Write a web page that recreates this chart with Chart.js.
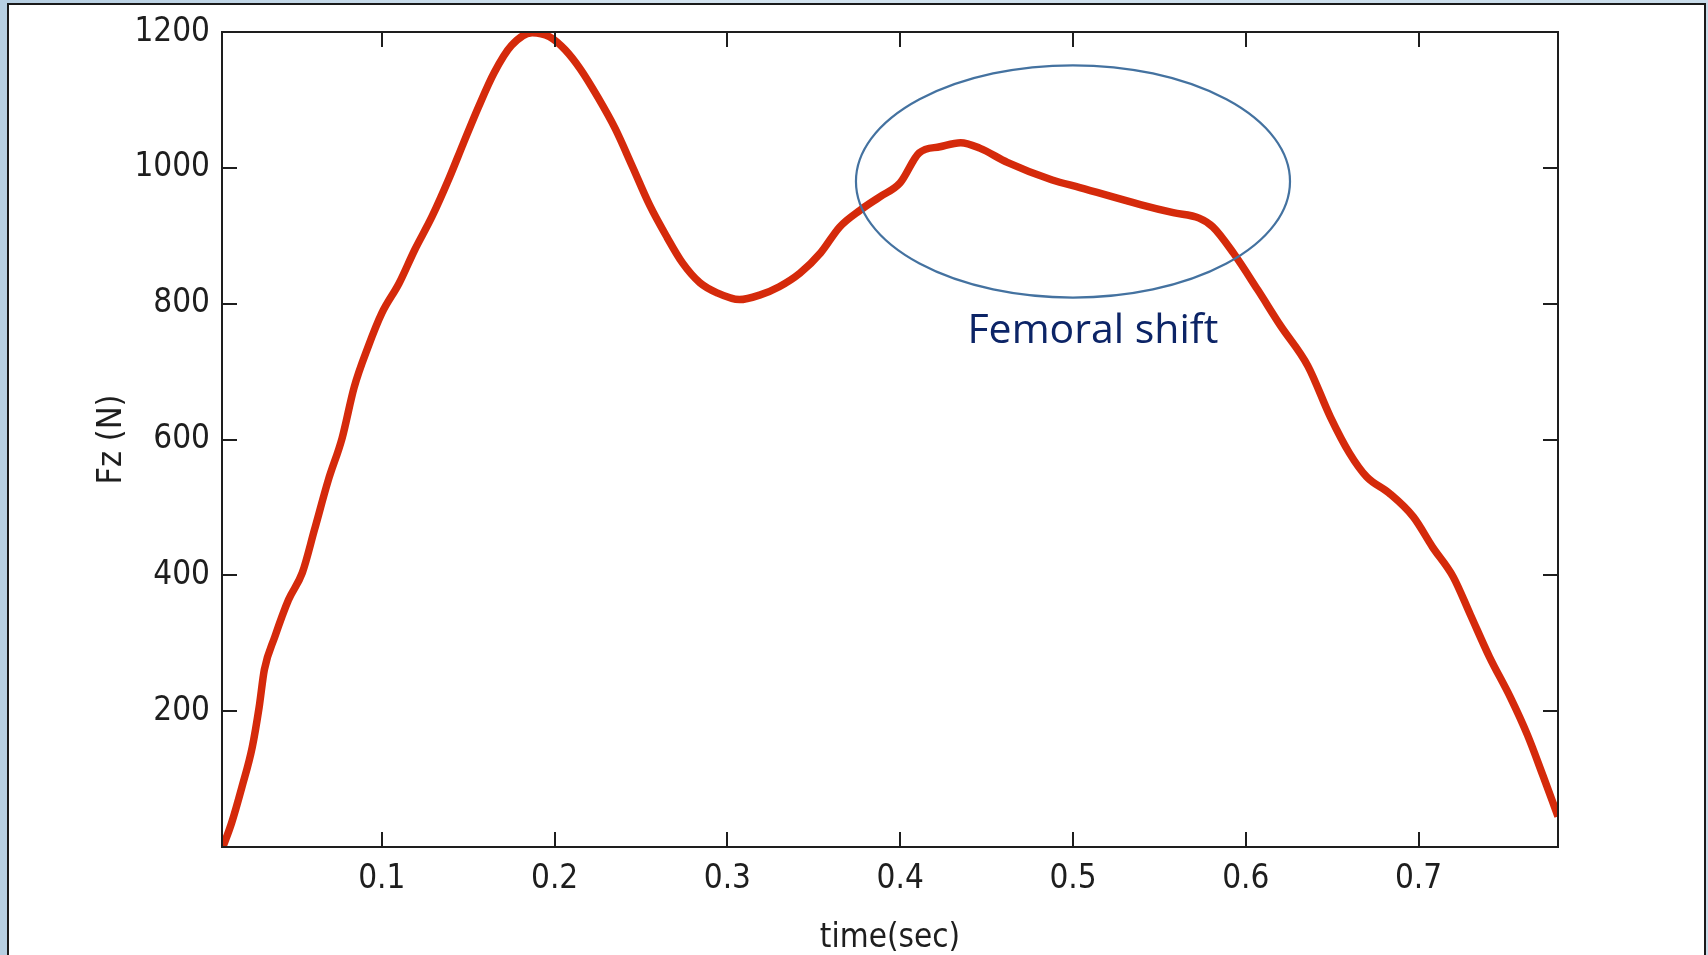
<!DOCTYPE html>
<html>
<head>
<meta charset="utf-8">
<title>Fz</title>
<script src="https://cdn.jsdelivr.net/npm/chart.js@4.4.1/dist/chart.umd.min.js"></script>
<style>
    body {
        margin: 0;
        width: 1708px;
        height: 955px;
        overflow: hidden;
        background: linear-gradient(90deg, #b7cfe2 0%, #d3e3ef 40%, #c9dcea 100%);
    }
    #marco {
        position: absolute;
        left: 7px;
        top: 3px;
        width: 1695px;
        height: 1000px;
        border: 2px solid #1a1a1a;
        background: #ffffff;
    }
    #graficoFz {
        position: absolute;
        left: 0;
        top: 0;
    }
</style>
</head>
<body>
<div id="marco"></div>
<canvas id="graficoFz" width="1708" height="955"></canvas>
<script>
// valores (tiempo en s, fuerza en N)
var tiempos = [0.008, 0.013, 0.019, 0.025, 0.029, 0.032, 0.038, 0.046, 0.054, 0.061,
    0.069, 0.077, 0.084, 0.092, 0.100, 0.110, 0.119, 0.129, 0.139, 0.147,
    0.156, 0.165, 0.175, 0.187, 0.197, 0.206, 0.215, 0.225, 0.235, 0.245,
    0.255, 0.265, 0.274, 0.284, 0.294, 0.307, 0.319, 0.330, 0.342, 0.354,
    0.365, 0.377, 0.388, 0.400, 0.411, 0.423, 0.435, 0.446, 0.462, 0.488,
    0.504, 0.539, 0.558, 0.573, 0.581, 0.593, 0.607, 0.620, 0.636, 0.649,
    0.660, 0.670, 0.683, 0.697, 0.708, 0.720, 0.730, 0.741, 0.753, 0.763,
    0.772, 0.7807];
var fuerzas = [0, 35, 88, 147, 206, 261, 309, 364, 404, 467,
    540, 602, 677, 736, 786, 830, 879, 928, 985, 1035,
    1090, 1140, 1180, 1199, 1193, 1174, 1145, 1104, 1058, 1002,
    945, 898, 860, 831, 816, 806, 813, 825, 845, 875,
    913, 938, 957, 978, 1022, 1031, 1037, 1029, 1008, 982,
    971, 946, 934, 926, 913, 874, 820, 768, 708, 633,
    580, 545, 521, 486, 442, 398, 342, 280, 221, 165,
    105, 45];
var ticksX = [0.1, 0.2, 0.3, 0.4, 0.5, 0.6, 0.7];
var ticksY = [200, 400, 600, 800, 1000, 1200];

// anotacion (en unidades de los ejes)
var nota = {texto: "Femoral shift", x: 0.5115, y: 742};
var elipse = {x: 0.5, y: 980, rx: 0.1256, ry: 171};

var fuenteEje = '"Liberation Sans Narrow", "DejaVu Sans Condensed", "Liberation Sans", sans-serif';

var marcoMatlab = {
    id: 'marcoMatlab',
    afterDatasetsDraw: function (chart) {
        var c = chart.ctx;
        var a = chart.chartArea;
        var sx = chart.scales.x;
        var sy = chart.scales.y;
        var largo = 15;
        c.save();
        c.strokeStyle = '#1e1e1e';
        c.lineWidth = 2;
        c.strokeRect(a.left, a.top, a.right - a.left, a.bottom - a.top);
        c.beginPath();
        ticksX.forEach(function (v) {
            var px = Math.round(sx.getPixelForValue(v));
            c.moveTo(px, a.bottom);
            c.lineTo(px, a.bottom - largo);
            c.moveTo(px, a.top);
            c.lineTo(px, a.top + largo);
        });
        ticksY.forEach(function (v) {
            var py = Math.round(sy.getPixelForValue(v));
            c.moveTo(a.left, py);
            c.lineTo(a.left + largo, py);
            c.moveTo(a.right, py);
            c.lineTo(a.right - largo, py);
        });
        c.stroke();

        // elipse y texto
        var cx = sx.getPixelForValue(elipse.x);
        var cy = sy.getPixelForValue(elipse.y);
        var rx = sx.getPixelForValue(elipse.x + elipse.rx) - cx;
        var ry = cy - sy.getPixelForValue(elipse.y + elipse.ry);
        c.beginPath();
        c.ellipse(cx, cy, rx, ry, 0, 0, Math.PI * 2);
        c.strokeStyle = '#4472a0';
        c.lineWidth = 2.2;
        c.stroke();

        c.fillStyle = '#0c2466';
        c.font = '41px "Open Sans", "Noto Sans", sans-serif';
        c.textAlign = 'center';
        c.textBaseline = 'alphabetic';
        c.fillText(nota.texto, sx.getPixelForValue(nota.x), sy.getPixelForValue(nota.y));
        c.restore();
    }
};

window.onload = function () {
    var ctx = document.getElementById("graficoFz");
    var puntos = [];
    for (var i = 0; i < tiempos.length; i++) {
        puntos.push({x: tiempos[i], y: fuerzas[i]});
    }

    var grafico = new Chart(ctx, {
        type: 'line',
        data: {
            datasets: [{
                    label: 'Fz',
                    data: puntos,
                    borderColor: '#d52a0b',
                    borderWidth: 7.5,
                    pointRadius: 0,
                    cubicInterpolationMode: 'monotone',
                    fill: false
                }]
        },
        options: {
            responsive: false,
            animation: false,
            layout: {
                padding: {left: 0, top: 32, right: 150, bottom: 0}
            },
            plugins: {
                legend: {display: false},
                tooltip: {enabled: false}
            },
            scales: {
                x: {
                    type: 'linear',
                    min: 0.0075,
                    max: 0.7807,
                    afterBuildTicks: function (s) {
                        s.ticks = ticksX.map(function (v) { return {value: v}; });
                    },
                    afterFit: function (s) {
                        s.height = 108;
                    },
                    grid: {display: false, drawTicks: false},
                    border: {display: false},
                    ticks: {
                        color: '#1e1e1e',
                        padding: 13,
                        maxRotation: 0,
                        autoSkip: false,
                        font: {family: fuenteEje, size: 33},
                        callback: function (v) { return v.toFixed(1); }
                    },
                    title: {
                        display: true,
                        text: 'time(sec)',
                        color: '#1e1e1e',
                        font: {family: fuenteEje, size: 33, lineHeight: 1},
                        padding: {top: 10, bottom: 0}
                    }
                },
                y: {
                    min: 0,
                    max: 1200,
                    afterBuildTicks: function (s) {
                        s.ticks = ticksY.map(function (v) { return {value: v}; });
                    },
                    afterFit: function (s) {
                        s.width = 222;
                    },
                    grid: {display: false, drawTicks: false},
                    border: {display: false},
                    ticks: {
                        color: '#1e1e1e',
                        padding: 12,
                        autoSkip: false,
                        font: {family: fuenteEje, size: 33},
                        callback: function (v) { return String(v); }
                    },
                    title: {
                        display: true,
                        text: 'Fz (N)',
                        color: '#1e1e1e',
                        font: {family: fuenteEje, size: 34, lineHeight: 1},
                        padding: {top: 95, bottom: 0}
                    }
                }
            }
        },
        plugins: [marcoMatlab]
    });
};
</script>
</body>
</html>
